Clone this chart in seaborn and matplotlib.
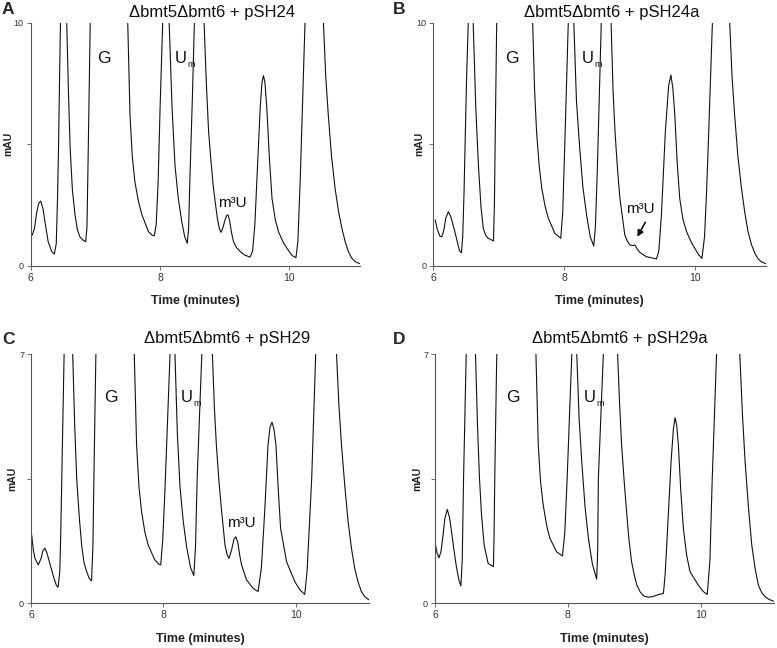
import matplotlib
matplotlib.use('Agg')
import matplotlib.pyplot as plt
import seaborn as sns

# chromatogram traces (values above the y-limit are off-scale peak tops)
TIME_A = [5.99, 6.025, 6.06, 6.09, 6.125, 6.155, 6.19, 6.22, 6.27, 6.325, 6.365, 6.395, 6.415, 6.43, 6.445, 6.46, 6.51, 6.557,
          6.585, 6.61, 6.645, 6.685, 6.72, 6.76, 6.81, 6.85, 6.87, 6.89, 6.92, 7.21, 7.50, 7.535, 7.57, 7.61, 7.665, 7.72,
          7.82, 7.88, 7.91, 7.94, 7.97, 8.00, 8.04, 8.09, 8.14, 8.185, 8.23, 8.28, 8.335, 8.38, 8.42, 8.44, 8.46, 8.50,
          8.53, 8.605, 8.68, 8.715, 8.75, 8.79, 8.825, 8.885, 8.915, 8.94, 8.97, 9.00, 9.025, 9.05, 9.075, 9.105, 9.135,
          9.18, 9.24, 9.30, 9.39, 9.43, 9.465, 9.495, 9.547, 9.575, 9.598, 9.62, 9.65, 9.69, 9.73, 9.78, 9.83, 9.90,
          9.96, 10.04, 10.10, 10.13, 10.165, 10.20, 10.24, 10.38, 10.525, 10.56, 10.60, 10.65, 10.705, 10.76, 10.81,
          10.86, 10.91, 10.96, 11.02, 11.09]
MAU_A = [1.40, 1.26, 1.55, 2.15, 2.58, 2.66, 2.35, 1.81, 0.99, 0.58, 0.48, 0.9, 2.8, 4.83, 7.5, 10.0, 40, 10.0,
         7.0, 4.83, 3.1, 2.09, 1.5, 1.19, 1.05, 0.99, 1.6, 4.83, 10.0, 80, 10.0, 6.2, 4.5, 3.46, 2.65, 2.09,
         1.40, 1.25, 1.23, 1.7, 3.46, 6.5, 10.0, 40, 10.0, 6.5, 4.14, 2.8, 1.81, 1.2, 0.92, 1.5, 3.5, 7.0,
         10.0, 40, 10.0, 7.5, 5.51, 4.2, 3.18, 1.95, 1.55, 1.37, 1.55, 1.85, 2.05, 2.09, 1.85, 1.35, 0.99,
         0.75, 0.58, 0.45, 0.35, 0.6, 1.7, 3.46, 6.48, 7.55, 7.82, 7.55, 6.48, 4.4, 2.77, 1.9, 1.40, 0.98,
         0.72, 0.42, 0.33, 1.0, 3.46, 6.5, 10.0, 40, 10.0, 7.8, 6.2, 4.5, 3.18, 2.2, 1.54,
         1.0, 0.58, 0.32, 0.16, 0.08]

TIME_B = [6.03, 6.06, 6.10, 6.13, 6.16, 6.19, 6.23, 6.27, 6.30, 6.33, 6.37, 6.40, 6.43, 6.45, 6.47, 6.485, 6.51, 6.535,
          6.572, 6.61, 6.65, 6.69, 6.73, 6.765, 6.80, 6.84, 6.92, 6.935, 6.945, 6.97, 7.245, 7.52, 7.55, 7.58, 7.62,
          7.66, 7.71, 7.76, 7.86, 7.95, 7.98, 8.01, 8.065, 8.108, 8.15, 8.19, 8.24, 8.29, 8.345, 8.40, 8.455, 8.48,
          8.51, 8.54, 8.57, 8.645, 8.72, 8.75, 8.78, 8.82, 8.855, 8.93, 8.97, 9.01, 9.05, 9.085, 9.12, 9.16, 9.26,
          9.415, 9.45, 9.49, 9.55, 9.60, 9.635, 9.665, 9.695, 9.73, 9.77, 9.82, 9.875, 9.94, 10.0, 10.06, 10.11,
          10.15, 10.18, 10.205, 10.27, 10.40, 10.535, 10.57, 10.61, 10.66, 10.715, 10.765, 10.815, 10.87, 10.92,
          10.97, 11.02, 11.09]
MAU_B = [1.88, 1.5, 1.22, 1.19, 1.45, 1.95, 2.22, 2.0, 1.7, 1.40, 0.95, 0.62, 0.53, 1.2, 3.0, 4.83, 7.8, 10.0,
         40, 10.0, 6.5, 4.14, 2.4, 1.54, 1.25, 1.13, 1.02, 2.5, 4.83, 10.0, 80, 10.0, 7.2, 5.51, 4.1,
         3.18, 2.45, 1.95, 1.33, 1.13, 2.2, 4.83, 10.0, 40, 10.0, 6.8, 4.83, 3.2, 2.09, 1.2, 0.81, 1.6,
         4.0, 7.0, 10.0, 40, 10.0, 7.2, 5.51, 3.9, 2.77, 1.26, 1.0, 0.85, 0.83, 0.85, 0.68, 0.55, 0.37,
         0.28, 0.6, 2.09, 5.51, 7.4, 7.85, 7.3, 6.2, 4.3, 2.77, 1.9, 1.40, 1.0, 0.72, 0.45, 0.30,
         1.2, 3.0, 4.83, 10.0, 40, 10.0, 7.8, 6.2, 4.5, 3.18, 2.2, 1.40, 0.85, 0.51,
         0.28, 0.16, 0.08]

TIME_C = [6.01, 6.035, 6.06, 6.11, 6.15, 6.18, 6.21, 6.24, 6.29, 6.34, 6.38, 6.41, 6.435, 6.45, 6.465, 6.50, 6.565, 6.63,
          6.66, 6.69, 6.73, 6.765, 6.80, 6.84, 6.88, 6.915, 6.935, 6.95, 6.98, 7.27, 7.56, 7.595, 7.63, 7.67, 7.72,
          7.77, 7.87, 7.93, 7.96, 7.99, 8.02, 8.06, 8.10, 8.1375, 8.175, 8.21, 8.25, 8.30, 8.35, 8.41, 8.46, 8.485,
          8.51, 8.58, 8.66, 8.74, 8.77, 8.80, 8.84, 8.88, 8.93, 8.96, 8.99, 9.03, 9.065, 9.095, 9.125, 9.15, 9.18,
          9.255, 9.355, 9.43, 9.48, 9.53, 9.58, 9.61, 9.64, 9.67, 9.70, 9.735, 9.77, 9.86, 9.985, 10.06, 10.135,
          10.17, 10.20, 10.24, 10.30, 10.46, 10.615, 10.65, 10.69, 10.74, 10.79, 10.84, 10.89, 10.94, 10.99,
          11.04, 11.11]
MAU_C = [1.92, 1.5, 1.26, 1.08, 1.25, 1.48, 1.55, 1.42, 1.08, 0.75, 0.52, 0.45, 0.9, 2.0, 3.51, 7.0, 30, 7.0,
         5.0, 3.51, 2.4, 1.64, 1.15, 0.89, 0.70, 0.63, 1.6, 3.51, 7.0, 60, 7.0, 4.45, 3.3, 2.58, 2.0,
         1.64, 1.22, 1.10, 1.08, 1.8, 3.04, 5.0, 7.0, 30, 7.0, 4.8, 3.28, 2.3, 1.59, 1.0, 0.78, 1.6,
         3.51, 7.0, 30, 7.0, 5.5, 4.45, 3.4, 2.58, 1.64, 1.38, 1.26, 1.5, 1.8, 1.87, 1.7, 1.38, 1.08,
         0.66, 0.42, 0.33, 1.0, 2.58, 4.45, 4.95, 5.09, 4.9, 4.45, 3.2, 2.11, 1.17, 0.61, 0.38, 0.25,
         0.9, 2.0, 3.51, 7.0, 30, 7.0, 5.6, 4.45, 3.3, 2.29, 1.55, 0.98, 0.6, 0.33,
         0.19, 0.09]

TIME_D = [6.0, 6.03, 6.06, 6.09, 6.12, 6.15, 6.185, 6.22, 6.25, 6.275, 6.32, 6.36, 6.39, 6.41, 6.43, 6.47, 6.54, 6.61,
          6.64, 6.67, 6.70, 6.74, 6.80, 6.88, 6.89, 6.90, 6.93, 7.225, 7.52, 7.555, 7.59, 7.63, 7.68, 7.73, 7.83,
          7.92, 7.955, 7.99, 8.06, 8.0975, 8.135, 8.17, 8.21, 8.26, 8.31, 8.37, 8.435, 8.45, 8.46, 8.535, 8.64,
          8.75, 8.78, 8.81, 8.85, 8.885, 8.92, 8.96, 9.00, 9.04, 9.09, 9.14, 9.21, 9.28, 9.34, 9.44, 9.465, 9.49,
          9.555, 9.59, 9.615, 9.64, 9.665, 9.70, 9.74, 9.79, 9.84, 9.965, 10.04, 10.10, 10.14, 10.175, 10.24,
          10.415, 10.59, 10.63, 10.67, 10.72, 10.77, 10.82, 10.87, 10.92, 10.97, 11.03, 11.10]
MAU_D = [1.73, 1.42, 1.28, 1.45, 1.9, 2.4, 2.64, 2.4, 2.0, 1.64, 1.05, 0.65, 0.49, 1.2, 3.51, 7.0, 30, 7.0,
         5.0, 3.51, 2.5, 1.64, 1.12, 1.03, 2.0, 3.51, 7.0, 60, 7.0, 4.45, 3.4, 2.76, 2.2, 1.83, 1.45,
         1.33, 2.0, 3.51, 7.0, 30, 7.0, 5.2, 3.98, 2.7, 1.83, 1.1, 0.68, 1.5, 3.51, 7.0, 30,
         7.0, 5.6, 4.45, 3.4, 2.58, 1.8, 1.17, 0.8, 0.51, 0.32, 0.21, 0.17, 0.19, 0.23, 0.28, 0.8, 1.64,
         3.98, 4.9, 5.22, 5.0, 4.45, 3.2, 2.11, 1.35, 0.89, 0.51, 0.33, 0.25, 1.2, 3.51, 7.0,
         30, 7.0, 5.3, 3.98, 2.7, 1.64, 0.98, 0.51, 0.3, 0.19, 0.11, 0.06]

LETTERS = ['A', 'B', 'C', 'D']
TITLES = ['\u0394bmt5\u0394bmt6 + pSH24', '\u0394bmt5\u0394bmt6 + pSH24a',
          '\u0394bmt5\u0394bmt6 + pSH29', '\u0394bmt5\u0394bmt6 + pSH29a']
YMAX = [10, 10, 7, 7]
XMAX = [11.09, 11.09, 11.11, 11.105]
# label anchors (data coords): G centre, Um left edge, m3U centre (None = absent)
G_POS = [(7.13, 8.34), (7.196, 8.33), (7.21, 5.67), (7.167, 5.67)]
UM_POS = [(8.22, 8.34), (8.27, 8.33), (8.264, 5.67), (8.233, 5.67)]
M3U_POS = [(9.11, 2.43), (9.17, 2.16), (9.17, 2.15), None]

sns.set_style('ticks')
plt.rcParams['font.family'] = ['Liberation Sans', 'DejaVu Sans']

W, H = 777, 648
fig = plt.figure(figsize=(W/100, H/100), dpi=100)
fig.patch.set_facecolor('white')

# axes boxes in pixels: left, right, top, bottom
boxes = [(30.7, 360, 22.7, 265.7), (433.3, 766, 22.7, 265.7),
         (31, 369.3, 354.3, 603.3), (435, 774, 354.3, 603.3)]
ylab_x = [-0.054, -0.028, -0.041, -0.038]
title_xy = [(212, 12), (612, 12), (227, 338), (620, 338)]
letter_xy = [(2, 10), (393, 10), (2, 340), (393, 340)]
traces = [(TIME_A, MAU_A), (TIME_B, MAU_B), (TIME_C, MAU_C), (TIME_D, MAU_D)]

for i in range(4):
    l, r, t, b = boxes[i]
    ax = fig.add_axes([l/W, 1-b/H, (r-l)/W, (b-t)/H])
    tx, ty = traces[i]
    sns.lineplot(x=tx, y=ty, ax=ax, color='#111111', lw=0.8, sort=False, estimator=None)
    ax.set_xlim(6, XMAX[i]); ax.set_ylim(0, YMAX[i])
    ax.set_xticks([6, 8, 10]); ax.set_xticklabels(['6', '8', '10'], fontsize=7.5)
    ax.set_yticks([0, YMAX[i]/2, YMAX[i]]); ax.set_yticklabels(['0', '', str(YMAX[i])], fontsize=6.5)
    sns.despine(ax=ax)
    for sp in ['left', 'bottom']:
        ax.spines[sp].set_color('#555555'); ax.spines[sp].set_linewidth(0.8)
    ax.tick_params(length=3, width=0.6, color='#555555', labelcolor='#333333', pad=2)
    ax.set_xlabel('Time (minutes)', fontsize=9, fontweight='bold', color='#222222')
    ax.xaxis.set_label_coords(0.5, -0.12)
    ax.set_ylabel('mAU', fontsize=7.5, fontweight='bold', color='#222222')
    ax.yaxis.set_label_coords(ylab_x[i], 0.5)
    ax.text(*G_POS[i], 'G', fontsize=12.5, ha='center', va='baseline', color='#111111')
    ax.text(*UM_POS[i], 'U', fontsize=12, ha='left', va='baseline', color='#111111')
    ax.annotate('m', xy=UM_POS[i], xytext=(9.2, -3), textcoords='offset points', fontsize=6.5,
                ha='left', va='baseline', color='#111111')
    if M3U_POS[i] is not None:
        ax.text(*M3U_POS[i], 'm\u00b3U', fontsize=11, ha='center', va='baseline', color='#111111')
    fig.text(title_xy[i][0]/W, 1-title_xy[i][1]/H, TITLES[i], fontsize=12, ha='center', va='center',
             color='#111111')
    fig.text(letter_xy[i][0]/W, 1-letter_xy[i][1]/H, LETTERS[i], fontsize=12.5, fontweight='bold',
             ha='left', va='center')
    if i == 1:
        ax.annotate('', xy=(9.10, 1.09), xytext=(9.263, 1.88),
                    arrowprops=dict(arrowstyle='-|>', color='#111111', lw=1.2, mutation_scale=9))

fig.savefig('out.png', dpi=100, facecolor='white')
